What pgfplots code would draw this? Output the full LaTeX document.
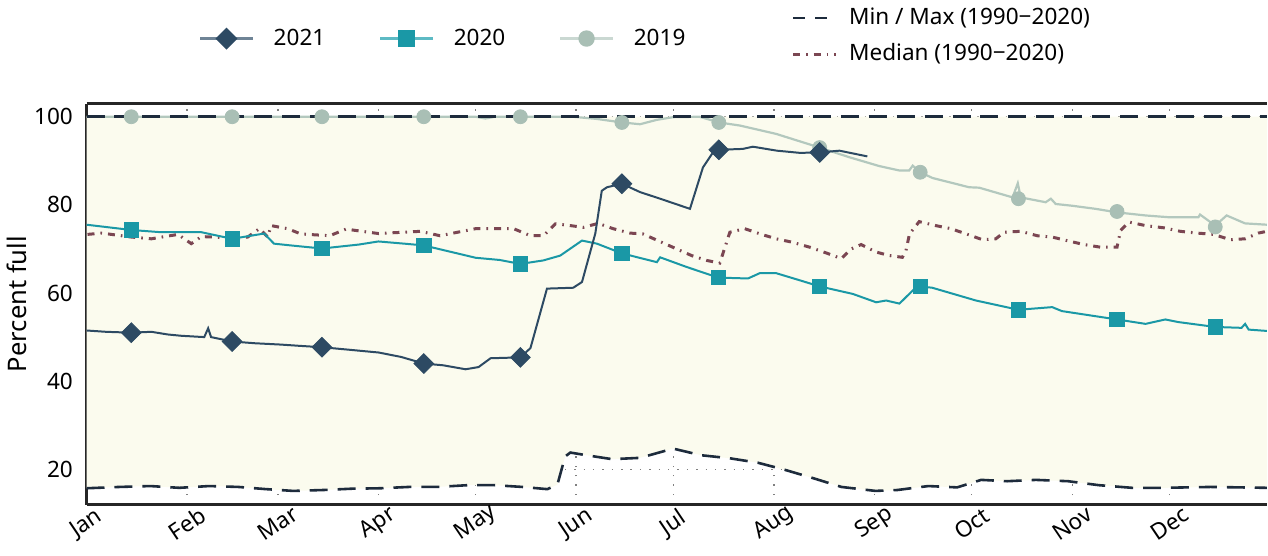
\documentclass[border=0pt]{standalone}
\usepackage{pgfplots}
\pgfplotsset{compat=1.18}
\usepgfplotslibrary{fillbetween}
\usepackage{fontspec}
\setmainfont{Noto Sans}
\definecolor{c21}{HTML}{2D4A63}
\definecolor{c21l}{HTML}{6F8496}
\definecolor{c20}{HTML}{1A98A6}
\definecolor{c20l}{HTML}{5DBAC4}
\definecolor{c19}{HTML}{A9BFB5}
\definecolor{c19l}{HTML}{B3C8BE}
\definecolor{mm}{HTML}{1D2B3C}
\definecolor{med}{HTML}{7B4652}
\definecolor{cream}{HTML}{FBFBEE}
\begin{document}
\fontsize{11}{13}\selectfont
\begin{tikzpicture}
\begin{axis}[
 name=main,
 scale only axis, width=591.5pt, height=201pt,
 xmin=0, xmax=364, ymin=12, ymax=103,
 set layers,
 axis x line*=box, axis y line*=left,
 axis line style={-, line width=1.2pt, color=black!85},
 y axis line style={-},
 xtick={0,31,59,90,120,151,181,212,243,273,304,334},
 xticklabels={Jan,Feb,Mar,Apr,May,Jun,Jul,Aug,Sep,Oct,Nov,Dec},
 ytick={20,40,60,80,100},
 major tick length=0pt,
 grid=major,
 major grid style={color=black!50, line width=0.7pt, dash pattern=on 0.7pt off 4pt},
 xticklabel style={yshift=-9.5pt, rotate=34, anchor=center},
 yticklabel style={xshift=-3pt},
 ylabel={Percent full},
 ylabel style={font=\fontsize{12.8}{15}\selectfont, yshift=-4pt},
 /pgf/number format/assume math mode=true,
 tick label style={font=\fontsize{11.3}{13}\selectfont},
 legend columns=3,
 legend cell align=left,
 legend style={draw=none, fill=none, at={(0.09,1.162)}, anchor=west,
   font=\fontsize{11.3}{13}\selectfont,
   /tikz/every odd column/.append style={column sep=8pt},
   /tikz/every even column/.append style={column sep=25pt}},
 legend image code/.code={\draw[mark repeat=2,mark phase=2] plot coordinates {(0cm,0cm) (0.46cm,0cm) (0.92cm,0cm)};},
]
\addlegendimage{c21l, line width=1.2pt, mark=square*, mark size=3.3pt, mark options={rotate=45, fill=c21, draw=c21}}
\addlegendentry{2021}
\addlegendimage{c20l, line width=1.2pt, mark=square*, mark size=3.5pt, mark options={fill=c20, draw=c20}}
\addlegendentry{2020}
\addlegendimage{c19l!70!white, line width=1.2pt, mark=*, mark size=3.5pt, mark options={fill=c19, draw=c19}}
\addlegendentry{2019}

% max line
\addplot[forget plot, draw=none, name path=maxp] coordinates {(0,100) (364,100)};
% min
\addplot[forget plot, mm, line width=1.3pt, dash pattern=on 9pt off 5pt, name path=minp] table {
0 15.7
10.2 16.0
19.7 16.2
28.6 15.8
37.8 16.2
46.8 16.0
55.4 15.5
63.7 15.1
72.9 15.3
81.8 15.6
90.7 15.7
99.4 16.0
108.3 16.0
117.5 16.4
125.8 16.4
134.4 16.0
142.1 15.5
145.2 16.5
147.6 22.9
149.2 23.8
154.1 23.2
162.1 22.3
170.7 22.6
180.9 24.7
189.5 23.2
198.4 22.5
207 21.5
215.3 19.9
224.5 17.9
232.8 16.0
243.3 15.1
250 15.3
259.6 16.2
268.5 15.9
275.9 17.6
283.9 17.3
292.8 17.6
302.7 17.3
312.2 16.4
322.4 15.8
332.2 15.8
346.7 16.0
364 15.8
};
\addplot[forget plot, fill=cream, draw=none, on layer=axis background] fill between[of=maxp and minp];

% median
\addplot[forget plot, med, line width=1.5pt, dash pattern=on 3.5pt off 3pt on 0.8pt off 3pt] table {
0.3 73.3
4.6 73.6
13.8 72.7
20 72.3
28.2 73.3
32.3 71.2
35.4 72.8
39.4 72.7
45.5 72.3
49.7 72.7
53.3 74.6
55.9 72.7
56.9 75.3
62 74.6
66.1 73.4
75 73.0
80 74.5
90 73.5
103 74.0
109 73.0
120 74.6
131.7 74.6
136.9 73.0
140.9 73.0
144.6 75.7
149.2 75.3
153.2 74.9
157.8 75.8
162.4 74.6
167.6 73.6
171.6 73.4
177.4 71.5
182 70.0
186.6 68.5
191.2 67.4
195.3 66.8
198.4 73.8
203 74.6
208.2 73.3
212.7 72.3
217.8 71.5
223 70.4
228.1 69.1
232.8 67.8
235.8 70.0
238.9 71.0
243.5 69.3
247.6 68.5
251.6 68.1
252.7 69.6
253.8 73.4
256.8 76.2
261.9 75.3
266.6 74.6
271.7 73.3
276.3 72.1
280.4 72.3
283 73.8
288.1 74.0
293.2 73.0
297.8 72.7
302.9 71.8
307.6 71.0
312.7 70.4
317.8 70.4
318.9 74.2
321.5 76.1
326.6 75.3
332.2 74.8
337.3 74.0
342.5 73.6
347.6 73.3
352.7 72.1
357.3 72.3
361.4 73.6
364 74.0
};

% 2019
\addplot[forget plot, c19l, line width=1.1pt] table {
0 100
120 100
123 99.6
126 100
150 100
157.4 99.5
165.1 98.7
170.7 98.3
175.9 99.3
180.9 99.9
189 100
195.1 98.7
201.5 98.0
212.7 96.1
226.1 93.0
235.3 90.8
244.5 88.8
250.7 87.8
253.7 87.8
254.8 88.9
257.1 87.4
260.9 86.1
272.2 84.0
275.3 83.9
285.6 81.7
287.2 84.9
288.1 81.7
295.8 80.6
297.4 81.4
298.9 80.2
304 79.8
311.2 79.1
317.8 78.3
326.6 77.6
333.7 77.2
342.9 77.2
343.4 77.8
348.1 75.3
351.6 77.6
357.3 75.8
364 75.5
};
% max dashed on top of 2019
\addplot[forget plot, mm, line width=1.3pt, dash pattern=on 9pt off 5pt] coordinates {(0,100) (364,100)};
\addplot[forget plot, only marks, mark=*, mark size=3.5pt, mark options={fill=c19, draw=c19}] table {
13.8 100
44.9 100
72.6 100
104 100
133.8 100
165.1 98.7
195 98.7
226.1 93.0
257.1 87.4
287.4 81.4
317.8 78.5
348.1 75.0
};

% 2020
\addplot[forget plot, c20, line width=1pt] table {
0 75.5
13.8 74.3
23 73.8
35.4 73.8
44.9 72.3
54.8 73.5
57.8 71.2
63 70.8
72.6 70.1
84 71.0
90 71.7
98 71.2
104 70.8
120 68.0
127.4 67.5
133.8 66.6
140.9 67.4
146.1 68.5
152.8 71.9
157.4 71.2
165.1 69.0
175.9 67.0
176.9 68.1
185.1 65.9
194.8 63.5
204 63.3
207.6 64.5
212.7 64.5
219.9 62.9
226.1 61.5
236.3 59.8
243.5 57.9
246.6 58.3
250.7 57.6
255.8 61.3
257.1 61.5
260.8 61.2
274.3 58.3
287.4 56.2
297.8 56.8
300.8 55.9
317.8 54.0
326.6 53.0
332.7 54.0
336.8 53.4
348.1 52.3
356.2 52.1
357.3 53.0
358.4 51.7
364 51.4
};
\addplot[forget plot, only marks, mark=square*, mark size=3.6pt, mark options={fill=c20, draw=c20}] table {
13.8 74.3
44.9 72.3
72.6 70.1
104 70.8
133.8 66.6
165.1 69.0
194.8 63.5
226.1 61.5
257.1 61.5
287.4 56.2
317.8 54.0
348.1 52.3
};

% 2021
\addplot[forget plot, c21, line width=1pt] table {
0 51.5
6 51.2
13.8 51.0
20 51.2
25 50.6
29.2 50.3
36.3 50.0
37.5 52.0
38.4 50.0
44.9 49.0
52 48.6
60 48.3
66 48.0
72.6 47.7
80 47.2
90.1 46.5
97 45.5
104 44.0
110 43.6
116.9 42.7
120.9 43.2
124.6 45.2
133.8 45.4
136.9 47.5
142 61.0
150.1 61.2
152.8 62.5
156.9 73.5
158.9 83.2
160.5 84.0
165.1 84.8
170.7 82.9
176.9 81.4
186.1 79.1
190.1 88.5
193.2 91.9
195 92.5
202.4 92.7
205.5 93.2
212.9 92.3
220 91.8
226.1 91.9
232.2 92.3
240.8 91.0
};
\addplot[forget plot, only marks, mark=square*, mark size=3.5pt, mark options={rotate=45, fill=c21, draw=c21}] table {
13.8 51.0
44.9 49.0
72.6 47.7
104 44.0
133.8 45.4
165.1 84.8
195 92.5
226.1 91.9
};
\end{axis}
\begin{axis}[
 at={(main.south west)}, anchor=south west,
 scale only axis, width=591.5pt, height=201pt,
 xmin=0, xmax=364, ymin=12, ymax=103,
 hide axis,
 legend cell align=left,
 legend style={draw=none, fill=none, at={(0.592,1.168)}, anchor=west,
   font=\fontsize{11.3}{13}\selectfont, row sep=4pt,
   /tikz/every odd column/.append style={column sep=4pt}},
 legend image code/.code={\draw plot coordinates {(0cm,0cm) (0.75cm,0cm)};},
]
\addlegendimage{mm, line width=1.3pt, dash pattern=on 6pt off 5pt}
\addlegendentry{Min / Max (1990−2020)}
\addlegendimage{med, line width=1.5pt, dash pattern=on 3.5pt off 3pt on 0.8pt off 3pt}
\addlegendentry{Median (1990−2020)}
\end{axis}
\end{tikzpicture}
\end{document}
